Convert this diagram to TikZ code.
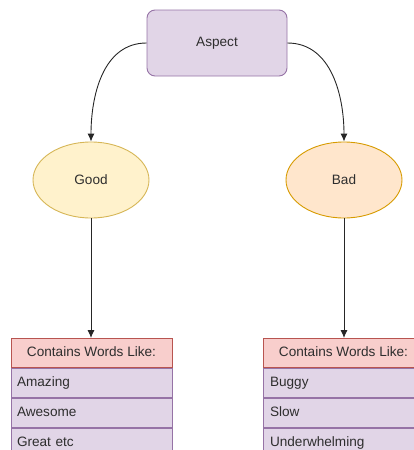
\documentclass[tikz,border=0pt]{standalone}
\usepackage{fontspec}
\setmainfont{Liberation Sans}
\usetikzlibrary{shapes.geometric,arrows.meta}
\definecolor{purpfill}{HTML}{E1D5E7}
\definecolor{purpline}{HTML}{9673A6}
\definecolor{yelfill}{HTML}{FFF2CC}
\definecolor{yelline}{HTML}{D6B656}
\definecolor{orfill}{HTML}{FFE6CC}
\definecolor{orline}{HTML}{D79B00}
\definecolor{redfill}{HTML}{F8CECC}
\definecolor{redline}{HTML}{B85450}
\definecolor{txt}{HTML}{2E2E2E}
\tikzset{
  base/.style={font=\fontsize{13.6}{16}\selectfont, text=txt, line width=0.9pt},
  topbox/.style={base, draw=purpline, fill=purpfill, rounded corners=8pt,
    minimum width=140pt, minimum height=66pt, inner sep=0pt},
  goodell/.style={base, ellipse, draw=yelline, fill=yelfill,
    minimum width=116pt, minimum height=76pt, inner sep=0pt},
  badell/.style={base, ellipse, draw=orline, fill=orfill,
    minimum width=116pt, minimum height=76pt, inner sep=0pt},
  hdrcell/.style={base, draw=redline, fill=redfill, minimum width=161pt,
    minimum height=29pt, inner sep=0pt, anchor=north,
    text height=10pt, text depth=3pt},
  rowcell/.style={base, draw=purpline, fill=purpfill, text width=149pt,
    inner xsep=6pt, inner ysep=0pt, minimum height=29pt, align=left, anchor=north,
    text height=10pt, text depth=3pt},
  link/.style={draw=black!85, line width=0.9pt, -{Latex[length=8pt,width=7pt]}}
}
\begin{document}
\begin{tikzpicture}[x=1pt,y=-1pt]
  \useasboundingbox (0,0) rectangle (414,450);
  \clip (0,0) rectangle (414,450);

  % root and the two categories
  \node[topbox] (asp) at (217,43) {Aspect};
  \node[goodell] (good) at (91,180) {Good};
  \node[badell] (bad) at (344,180) {Bad};

  % word list under Good
  \node[hdrcell] (hdrL) at (91.5,338) {Contains Words Like:};
  \node[rowcell] (l1) at (hdrL.south) {Amazing};
  \node[rowcell] (l2) at (l1.south) {Awesome};
  \node[rowcell] (l3) at (l2.south) {Great etc};

  % word list under Bad
  \node[hdrcell] (hdrR) at (343.5,338) {Contains Words Like:};
  \node[rowcell, text width=147pt, inner xsep=7pt] (r1) at (hdrR.south) {Buggy};
  \node[rowcell, text width=147pt, inner xsep=7pt] (r2) at (r1.south) {Slow};
  \node[rowcell, text width=147pt, inner xsep=7pt] (r3) at (r2.south) {Underwhelming};

  % connectors
  \draw[link] (asp.west) to[out=180,in=90] (good.north);
  \draw[link] (asp.east) to[out=0,in=90] (bad.north);
  \draw[link] (good.south) -- (good.south |- hdrL.north);
  \draw[link] (bad.south) -- (bad.south |- hdrR.north);
\end{tikzpicture}
\end{document}
